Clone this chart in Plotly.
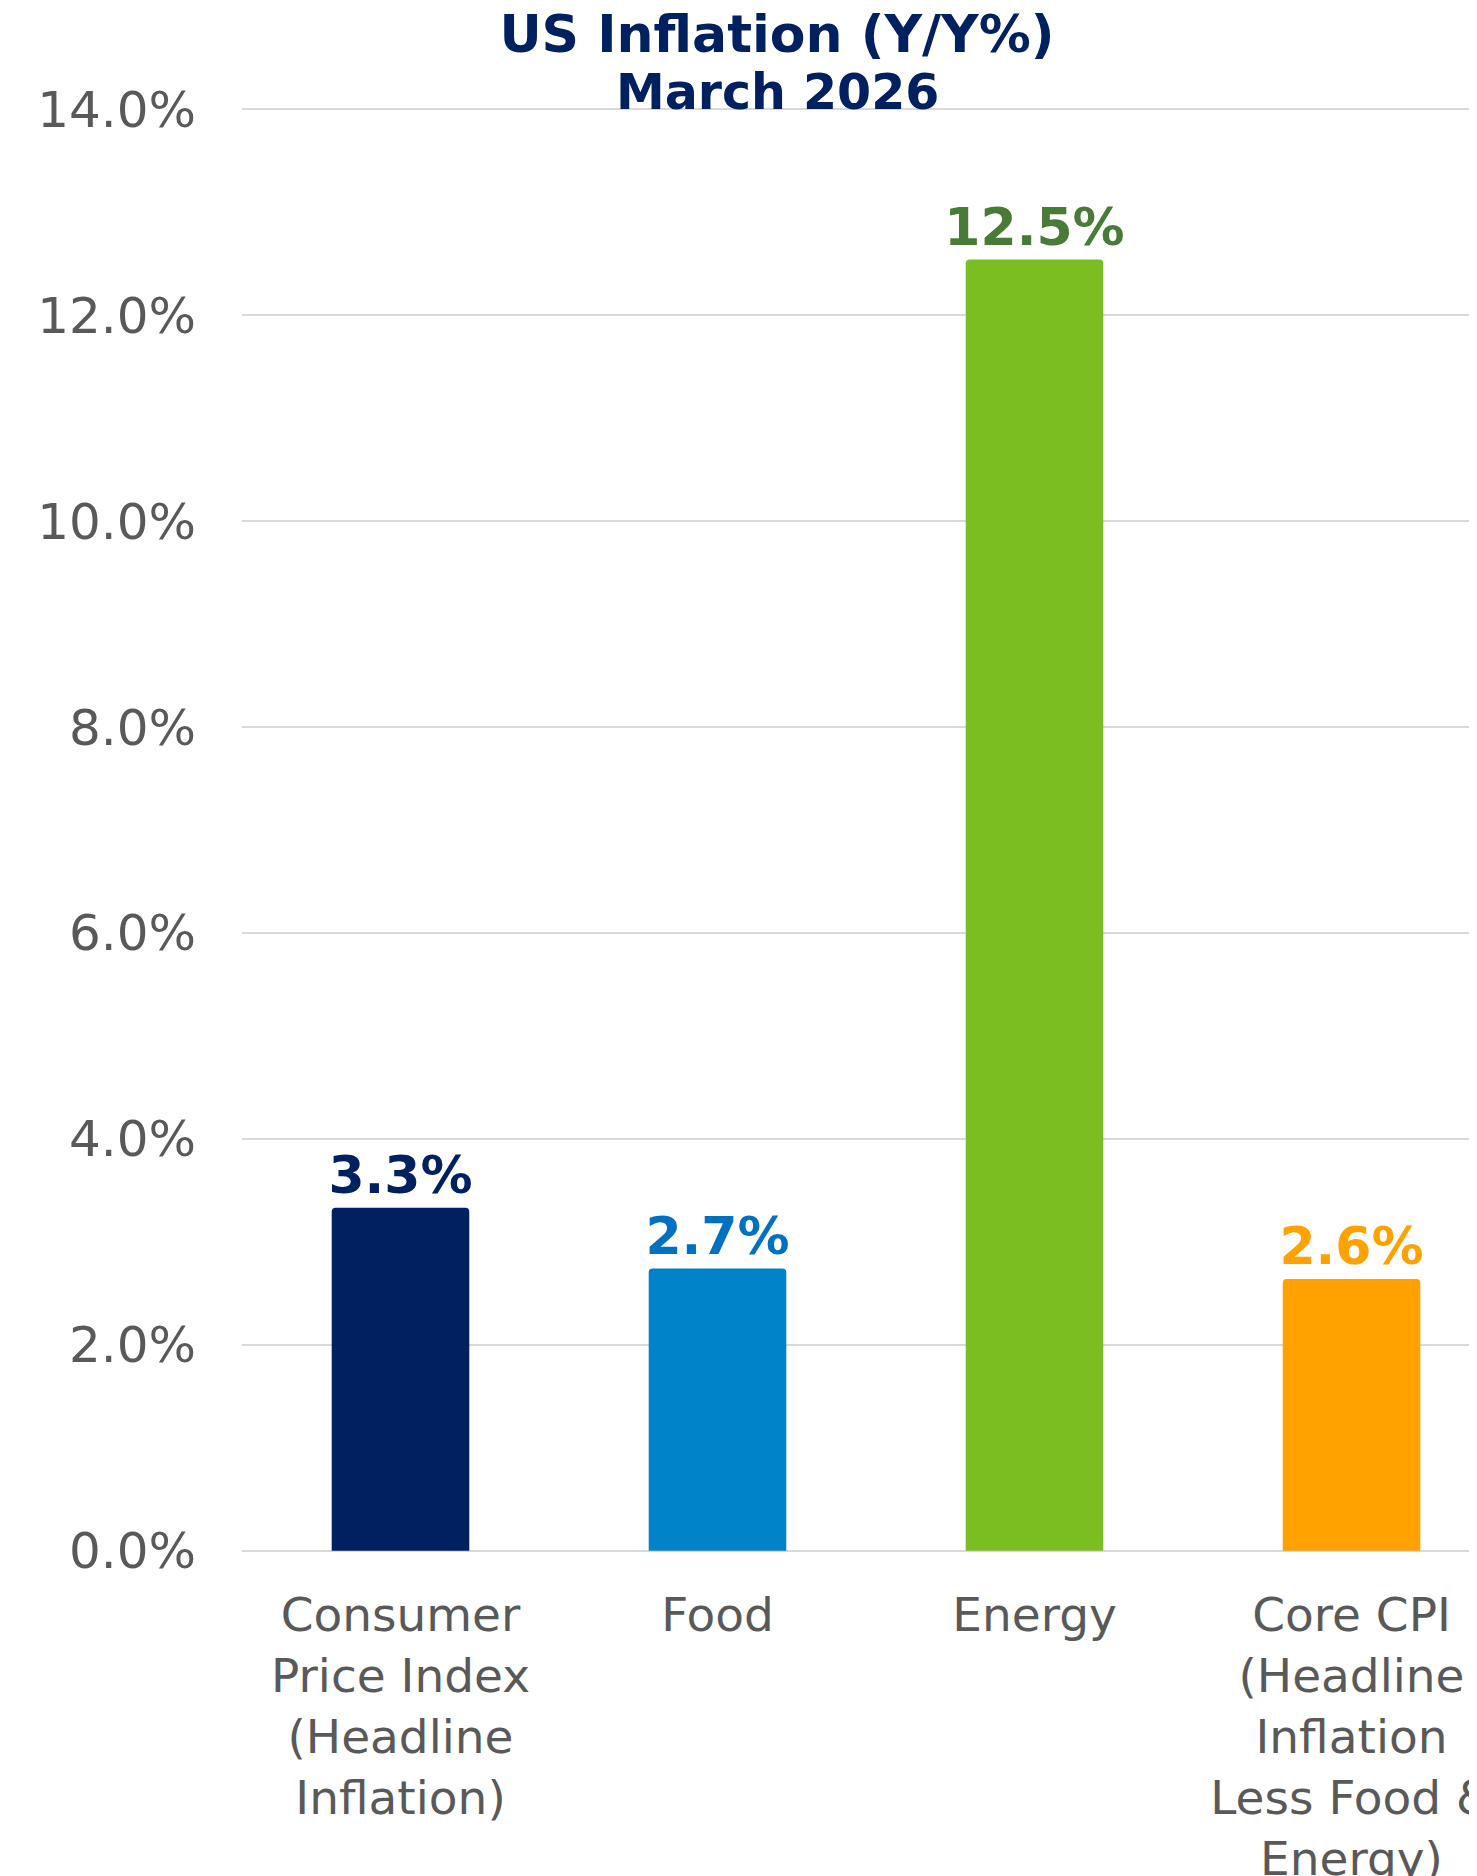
import plotly.graph_objects as go

categories = [
    "Consumer<br>Price Index<br>(Headline<br>Inflation)",
    "Food",
    "Energy",
    "Core CPI<br>(Headline<br>Inflation<br>Less Food &<br>Energy)",
]
values = [3.33, 2.74, 12.54, 2.64]
bar_colors = ["#002060", "#0083C9", "#7BBE22", "#FFA200"]
label_colors = ["#002060", "#0070C0", "#4A7A38", "#FFA200"]
y_ticks = [0, 2, 4, 6, 8, 10, 12, 14]
y_tick_labels = ["0.0%", "2.0%", "4.0%", "6.0%", "8.0%", "10.0%", "12.0%", "14.0%"]
title_line1 = "US Inflation (Y/Y%)"
title_line2 = "March 2026"

FONT = "DejaVu Sans"
TITLE_COLOR = "#002060"
W, H = 1500, 1868  # page body has an 8px margin
M_L, M_T, M_B = 234, 90.7, 314.7
PLOT_H = H - M_T - M_B
BAND = 317  # px per category
X_END = -0.5 + (W - M_L) / BAND

fig = go.Figure(
    go.Bar(
        x=list(range(len(categories))),
        y=values,
        width=0.434,
        marker=dict(color=bar_colors, line=dict(width=0), cornerradius=4),
        text=[f"{v:.1f}%" for v in values],
        textposition="outside",
        constraintext="none",
        textfont=dict(family=FONT, size=52, color=label_colors, weight="bold"),
        cliponaxis=False,
        hoverinfo="skip",
    )
)

fig.update_layout(
    width=W,
    height=H,
    margin=dict(l=M_L, r=0, t=M_T, b=M_B, autoexpand=False),
    paper_bgcolor="white",
    plot_bgcolor="white",
    showlegend=False,
    title=dict(
        text=f"<b>{title_line1}</b>",
        font=dict(family=FONT, size=52, color=TITLE_COLOR),
        x=769 / W,
        xanchor="center",
        xref="container",
        y=1 - 26 / H,
        yanchor="middle",
        yref="container",
    ),
    annotations=[
        dict(
            text=f"<b>{title_line2}</b>",
            font=dict(family=FONT, size=49, color=TITLE_COLOR),
            x=(769 - M_L) / (W - M_L),
            xref="paper",
            xanchor="center",
            y=1 + (M_T - 84) / PLOT_H,
            yref="paper",
            yanchor="middle",
            showarrow=False,
        )
    ],
    xaxis=dict(
        tickmode="array",
        tickvals=list(range(len(categories))),
        ticktext=categories,
        range=[-0.5, X_END],
        showgrid=False,
        zeroline=False,
        showline=False,
        tickfont=dict(family=FONT, size=47, color="#595959"),
        ticks="",
        ticklabelstandoff=22,
        ticklabeloverflow="allow",
    ),
    yaxis=dict(
        range=[-0.1, 14.1],
        tickmode="array",
        tickvals=y_ticks,
        ticktext=y_tick_labels,
        showgrid=True,
        gridcolor="#D9D9D9",
        gridwidth=2,
        zeroline=False,
        showline=False,
        tickfont=dict(family=FONT, size=50, color="#595959"),
        ticks="",
        ticklabelstandoff=45,
    ),
)

fig.write_html("out.html")
